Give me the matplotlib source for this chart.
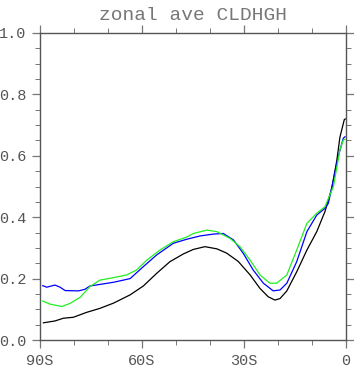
import numpy as np
import matplotlib.pyplot as plt
from matplotlib.ticker import MultipleLocator

# values (lat, zonal mean CLDHGH)
lat_black = [-89, -85.6, -83.1, -80.2, -76.3, -72.4, -68.4, -63.5, -59.6, -55.7,
             -51.8, -47.9, -44.9, -41.5, -38.0, -35.1, -31.7, -28.2, -25.3, -22.9,
             -20.9, -19.4, -17.4, -14.5, -11.5, -8.6, -6.2, -4.2, -2.7, -1.8, -0.5, -0.2]
cld_black = [0.056, 0.062, 0.071, 0.074, 0.090, 0.103, 0.120, 0.147, 0.176, 0.217,
             0.255, 0.280, 0.295, 0.304, 0.297, 0.283, 0.256, 0.212, 0.168, 0.141,
             0.130, 0.135, 0.160, 0.222, 0.293, 0.353, 0.418, 0.494, 0.585, 0.660, 0.718, 0.72]

lat_blue = [-89.2, -88.0, -85.6, -84.1, -82.6, -78.7, -76.8, -75.3, -72.4, -68.4,
            -65.5, -63.5, -59.6, -55.7, -50.8, -46.9, -42.9, -39.0, -36.1, -33.1,
            -30.2, -27.3, -24.3, -21.4, -19.4, -17.4, -14.5, -11.5, -8.6, -6.2,
            -5.2, -3.7, -2.3, -0.8, -0.3]
cld_blue = [0.177, 0.172, 0.179, 0.172, 0.161, 0.160, 0.165, 0.176, 0.181, 0.188,
            0.195, 0.200, 0.239, 0.277, 0.315, 0.328, 0.339, 0.345, 0.347, 0.326,
            0.282, 0.228, 0.185, 0.160, 0.163, 0.185, 0.255, 0.353, 0.407, 0.429,
            0.445, 0.521, 0.597, 0.657, 0.662]

lat_green = [-89.2, -87.1, -83.6, -81.2, -78.2, -75.3, -72.4, -68.4, -64.5, -61.6,
             -58.6, -54.7, -50.8, -46.9, -44.9, -40.9, -38.0, -34.1, -31.2, -28.2,
             -25.3, -22.4, -20.4, -17.4, -14.5, -11.5, -8.6, -6.2, -3.7, -1.8,
             -0.8, -0.3]
cld_green = [0.127, 0.117, 0.109, 0.119, 0.139, 0.174, 0.195, 0.203, 0.212, 0.228,
             0.260, 0.293, 0.320, 0.335, 0.347, 0.358, 0.353, 0.331, 0.304, 0.260,
             0.212, 0.185, 0.185, 0.212, 0.293, 0.380, 0.413, 0.434, 0.500, 0.619,
             0.651, 0.654]

xticks = [-90, -60, -30, 0]
xlabels = ["90S", "60S", "30S", "0"]
yticks = [0.0, 0.2, 0.4, 0.6, 0.8, 1.0]

fig = plt.figure(figsize=(3.54, 3.68), dpi=100)
ax = fig.add_axes([40/354, 28/368, 306/354, 307/368])

ax.plot(lat_black, cld_black, color="black", lw=0.9)
ax.plot(lat_blue, cld_blue, color="blue", lw=0.9)
ax.plot(lat_green, cld_green, color="#22ee22", lw=0.9)

ax.set_xlim(-90, 0)
ax.set_ylim(0, 1)
ax.set_xticks(xticks)
ax.set_xticklabels(xlabels)
ax.set_yticks(yticks)
ax.set_yticklabels(["%.1f" % v for v in yticks])
ax.xaxis.set_minor_locator(MultipleLocator(10))
ax.yaxis.set_minor_locator(MultipleLocator(0.05))

for s in ax.spines.values():
    s.set_color("#555555")
    s.set_linewidth(1.0)
ax.tick_params(which="both", direction="out", top=True, right=True,
               color="#777777", labelcolor="#555555", labelsize=11, pad=4)
ax.tick_params(which="major", length=6, width=0.9)
ax.tick_params(which="minor", length=3.5, width=0.7)
for lbl in ax.get_xticklabels() + ax.get_yticklabels():
    lbl.set_family("Liberation Mono")

ax.set_title("zonal ave CLDHGH", family="Liberation Mono", fontsize=14,
             color="#777777", pad=9)

fig.savefig("out.png", dpi=100)
